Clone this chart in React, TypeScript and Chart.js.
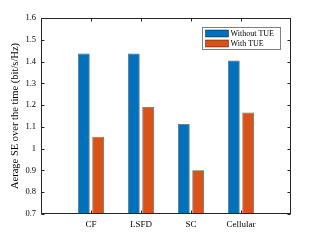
import React, { useEffect, useRef } from "react";
import { Chart, registerables } from "chart.js";
Chart.register(...registerables);

const categories = ["", "CF", "LSFD", "SC", "Cellular", ""];
const withoutTUE = [null, 1.437, 1.437, 1.113, 1.405, null];
const withTUE = [null, 1.055, 1.191, 0.901, 1.166, null];
const seriesNames = ["Without TUE", "With TUE"];
const seriesColors = ["#0072BD", "#D95319"];
const yMin = 0.7;
const yMax = 1.6;
const yStep = 0.1;
const yTitle = "Aerage SE over the time (bit/s/Hz)";

const FONT = "'Liberation Serif', 'Times New Roman', serif";
const AXIS = "#262626";

const framePlugin = {
  id: "frame",
  afterDraw(chart: any) {
    const { ctx, chartArea, scales } = chart;
    const { left, right, top, bottom } = chartArea;
    const L = Math.round(left) + 0.5;
    const R = Math.round(right) - 0.5;
    const T = Math.round(top) + 0.5;
    const B = Math.round(bottom) - 0.5;
    ctx.save();
    ctx.strokeStyle = AXIS;
    ctx.lineWidth = 1;
    ctx.strokeRect(L, T, R - L, B - T);
    const tl = 3;
    scales.y.ticks.forEach((t: any) => {
      const py = Math.round(scales.y.getPixelForValue(t.value)) + 0.5;
      ctx.beginPath();
      ctx.moveTo(L, py); ctx.lineTo(L + tl, py);
      ctx.moveTo(R, py); ctx.lineTo(R - tl, py);
      ctx.stroke();
    });
    categories.forEach((c, i) => {
      if (!c) return;
      const px = Math.round(scales.x.getPixelForValue(i)) + 0.5;
      ctx.beginPath();
      ctx.moveTo(px, B); ctx.lineTo(px, B - tl);
      ctx.moveTo(px, T); ctx.lineTo(px, T + tl);
      ctx.stroke();
    });
    const lw = 78, lh = 22;
    const lx = Math.round(right) - 11 - lw + 0.5;
    const ly = Math.round(top) + 9 + 0.5;
    ctx.fillStyle = "#ffffff";
    ctx.fillRect(lx, ly, lw, lh);
    ctx.strokeStyle = "#7f7f7f";
    ctx.strokeRect(lx, ly, lw, lh);
    ctx.font = `8px ${FONT}`;
    ctx.textBaseline = "middle";
    ctx.textAlign = "left";
    seriesNames.forEach((name, i) => {
      const sy = ly + 2.5 + i * 10;
      ctx.fillStyle = seriesColors[i];
      ctx.fillRect(lx + 3, sy, 23, 7);
      ctx.strokeStyle = "rgba(0,0,0,0.7)";
      ctx.lineWidth = 0.6;
      ctx.strokeRect(lx + 3, sy, 23, 7);
      ctx.fillStyle = "#000";
      ctx.fillText(name, lx + 28, sy + 3.5);
    });
    ctx.restore();
  },
};

export default function App() {
  const ref = useRef<HTMLCanvasElement>(null);
  useEffect(() => {
    const canvas = ref.current!;
    const chart = new Chart(canvas, {
      type: "bar",
      data: {
        labels: categories,
        datasets: [
          {
            label: seriesNames[0],
            data: withoutTUE as any,
            backgroundColor: seriesColors[0],
            borderColor: "rgba(0,0,0,0.6)",
            borderWidth: 0.8,
            categoryPercentage: 0.572,
            barPercentage: 0.82,
          },
          {
            label: seriesNames[1],
            data: withTUE as any,
            backgroundColor: seriesColors[1],
            borderColor: "rgba(0,0,0,0.6)",
            borderWidth: 0.8,
            categoryPercentage: 0.572,
            barPercentage: 0.82,
          },
        ],
      },
      options: {
        responsive: false,
        animation: false,
        layout: { padding: { top: 18, right: 30, left: 0, bottom: 0 } },
        plugins: {
          legend: { display: false },
          tooltip: { enabled: false },
        },
        scales: {
          x: {
            type: "category",
            offset: false,
            grid: { display: false, drawTicks: false },
            border: { display: false },
            ticks: {
              autoSkip: false,
              maxRotation: 0,
              padding: 5,
              color: "#000",
              font: { family: FONT, size: 9 },
            },
            afterFit: (s: any) => { s.height = 27; },
          },
          y: {
            min: yMin,
            max: yMax,
            grid: { display: false, drawTicks: false },
            border: { display: false },
            ticks: {
              stepSize: yStep,
              padding: 5,
              color: "#000",
              font: { family: FONT, size: 8.5 },
              callback: (v: any) => String(Number(Number(v).toFixed(1))),
            },
            title: {
              display: true,
              text: yTitle,
              color: "#000",
              font: { family: FONT, size: 10.5 },
              padding: { top: 9, bottom: 0 },
            },
            afterFit: (s: any) => { s.width = 41; },
          },
        },
      },
      plugins: [framePlugin],
    });
    return () => chart.destroy();
  }, []);
  return (
    <div style={{ position: "fixed", left: 0, top: 0, width: 321, height: 241, background: "#fff" }}>
      <canvas ref={ref} width={321} height={241} />
    </div>
  );
}
